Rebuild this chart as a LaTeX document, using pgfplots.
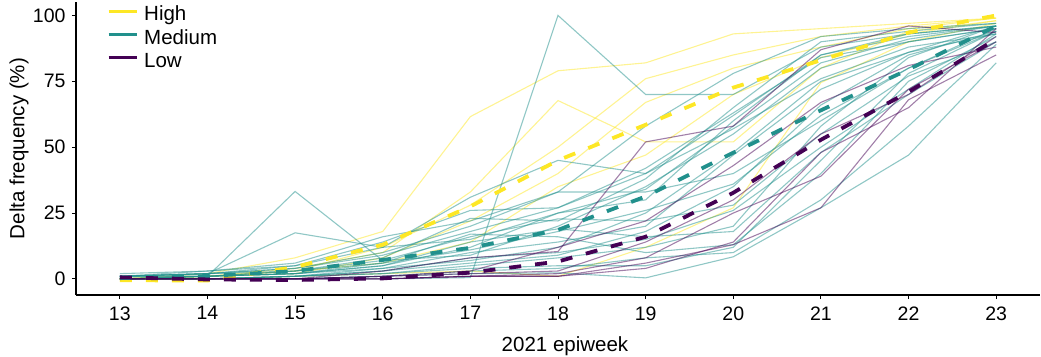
\documentclass[border=0pt]{standalone}
\usepackage{pgfplots}
\pgfplotsset{compat=1.18}
\usepackage{pgfplotstable}
\usepackage{fontspec}
\setmainfont{Liberation Sans}
\definecolor{vhigh}{HTML}{FDE725}
\definecolor{vmed}{HTML}{21908C}
\definecolor{vlow}{HTML}{440154}

\pgfplotstableread{
w h1 h2 h3 h4 h5 h6
13 0 0 0 0 0 0
14 2 1 1 1 0 1
15 8 4 3 2 1 3
16 18 10 12 8 2 6
17 61.6 33 28 22 3 14
18 79 67.7 50 40 1 35
19 82 52 76 67 12 47
20 93 52 85 80 27 70
21 95 80 92 88 74.5 84
22 97 94 96 95 90 93
23 99 98 99 99 97 98
}\high

\pgfplotstableread{
w m1 m2 m3 m4 m5 m6 m7 m8 m9 m10 m11 m12 m13 m14 m15 m16 m17 m18 m19 m20 m21 m22
13 1 1 0 0 1 2 1 0 0 1 0 0 0 1 0 0 0 1 0 1 0 0
14 1 2 0 0 2 3 1 1 0 2 1 1 0 2 0 1 0 2 0 3 1 0
15 33.2 17.5 0 0 5 6 3 2 1 4 3 2 1 3 1 2 1 4 0 5 2 1
16 7 12 0 1 12 16 8 5 4 10 7 6 3 6 2 5 2 9 1 14 4 3
17 9 15 0.5 2 31 22 23 12 10 20 16 17 8 11 5 14 4 18 3 26 7 6
18 20 25 100 2.3 45 33 22 25 14 33 22.8 16 10 18 8 19 5 27 4 27 12 9
19 35 30 70 0.4 40 58 38 34 20 33 22 10 15 26 12 16 5 42 8 40 25 18
20 55 60 70 8.4 62 78 65 58 47 40 28 13 26 36 20 18 12 63 10 57 48 35
21 80 85 88 27 85 92 90 82 72 60 55 40 50 62 58 48 45 84 30 76 75 66
22 90 92 93 47 93 95 94 91 86 80 77 75 72 80 84 70 78 90 58 88 86 85
23 95 96 96 82 96 97 97 96 93 95 90 92 93 94 96 90 94 95 89 93 96 94
}\med

\pgfplotstableread{
w l1 l2 l3 l4 l5 l6
13 0 0 0 0 0 0
14 0 0 0 0 0 0
15 0 0 0 0 0 0
16 3 1 0 0 1 0
17 8 3 1 1 2 1
18 10.4 12 2 1 3 1
19 52 22 8 6 14 4
20 58 43 25 13 30 14
21 87 67 39 27 55 48
22 96 81 72 68 70 65
23 93.5 88 90 85 92 95
}\low

\pgfplotstableread{
w high med low
13 -0.5 0.3 0.6
14 -0.6 1.1 -0.2
15 4.5 3.0 -0.4
16 13 7.2 0.2
17 27.5 11.8 2.4
18 45 18.6 6.6
19 58.5 31.3 16
20 72.6 47.9 32.7
21 83 64 52.8
22 93.5 79.5 71
23 100 96 91
}\means

\begin{document}
\begin{tikzpicture}
\path[use as bounding box] (-76pt,-61pt) rectangle (965pt,295pt);
\begin{axis}[
  scale only axis, width=964pt, height=293pt,
  xmin=12.5, xmax=23.5, ymin=-6.1, ymax=105.1,
  axis x line*=bottom, axis y line*=left,
  axis line style={line width=1.6pt, -},
  xtick={13,...,23}, ytick={0,25,50,75,100},
  tick align=outside, major tick length=4pt,
  tick style={line width=1pt, black},
  /pgf/number format/assume math mode=true,
  ticklabel style={font=\fontsize{19.5}{23}\selectfont},
  xticklabel style={yshift=-4pt},
  yticklabel style={xshift=-3pt},
  xlabel={2021 epiweek}, ylabel={Delta frequency (\%)},
  xlabel style={at={(axis description cs:0.5,0)}, anchor=base, yshift=-56pt, xshift=7pt, font=\fontsize{20.5}{24}\selectfont},
  ylabel style={at={(axis description cs:-0.0535,0.5)}, anchor=base, font=\fontsize{20.5}{24}\selectfont},
  thin/.style={line width=1.1pt, opacity=0.5},
  mean/.style={line width=3.8pt, dash pattern=on 12pt off 14pt},
  legend style={at={(axis description cs:0,1)}, anchor=north west, xshift=31pt, yshift=-5.5pt,
    draw=none, fill=none, inner sep=0pt, row sep=6.4pt,
    font=\fontsize{20.5}{24}\selectfont,
    nodes={inner sep=0pt, text height=13pt, text depth=4pt},
    /tikz/every odd column/.append style={column sep=6pt}},
  legend cell align=left,
  legend image code/.code={\draw[#1, line width=3pt] (0pt,5pt) -- (28pt,5pt);},
]
\addlegendimage{vhigh}\addlegendentry{High}
\addlegendimage{vmed}\addlegendentry{Medium}
\addlegendimage{vlow}\addlegendentry{Low}

\foreach \c in {h1,h2,h3,h4,h5,h6} {
  \addplot[vhigh, thin, forget plot] table[x=w, y=\c] {\high};
}
\foreach \c in {m1,m2,m3,m4,m5,m6,m7,m8,m9,m10,m11,m12,m13,m14,m15,m16,m17,m18,m19,m20,m21,m22} {
  \addplot[vmed, thin, forget plot] table[x=w, y=\c] {\med};
}
\foreach \c in {l1,l2,l3,l4,l5,l6} {
  \addplot[vlow, thin, forget plot] table[x=w, y=\c] {\low};
}
\addplot[vhigh, mean, forget plot] table[x=w, y=high] {\means};
\addplot[vmed, mean, forget plot] table[x=w, y=med] {\means};
\addplot[vlow, mean, forget plot] table[x=w, y=low] {\means};
\end{axis}
\end{tikzpicture}
\end{document}
